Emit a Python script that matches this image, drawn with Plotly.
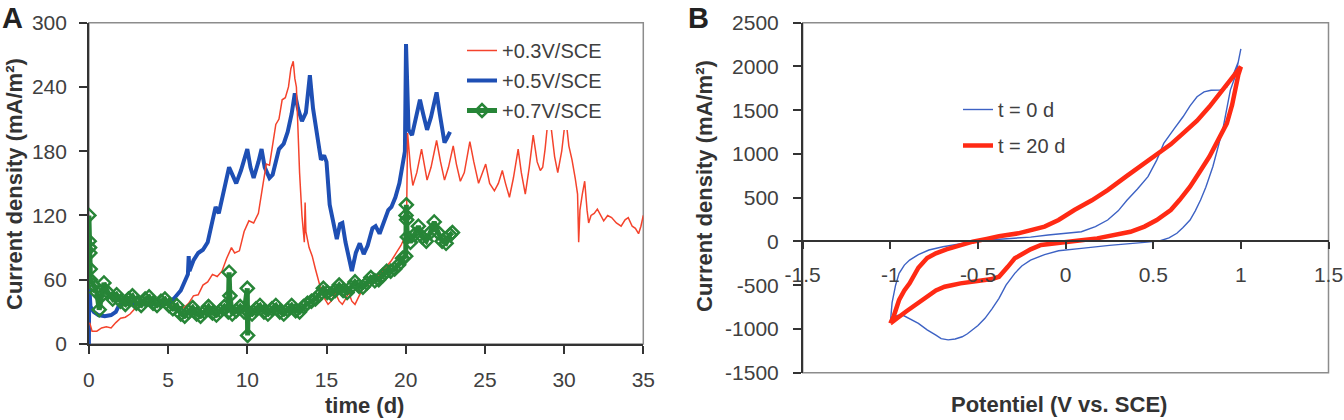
import plotly.graph_objects as go

# ---------------- Panel A : chronoamperometry ----------------
t_03 = [0.05, 0.2, 0.5, 0.8, 1.1, 1.4, 1.7, 2.0, 2.3, 2.6, 2.9, 3.2, 3.5, 4.0, 4.5, 5.0, 5.5, 6.0, 6.3, 6.6,
        6.9, 7.2, 7.5, 7.8, 8.1, 8.4, 8.7, 9.0, 9.2, 9.5, 9.8, 10.1, 10.4, 10.7, 11.0, 11.2, 11.4, 11.6, 11.8, 12.0,
        12.2, 12.4, 12.6, 12.75, 12.9, 13.0, 13.1, 13.2, 13.3, 13.45, 13.6, 13.65, 13.7, 13.9, 14.1, 14.3, 14.5, 14.7, 14.9, 15.1,
        15.3, 15.55, 15.8, 16.0, 16.2, 16.4, 16.6, 16.8, 17.0, 17.3, 17.6, 17.9, 18.2, 18.5, 18.8, 19.1, 19.4, 19.7, 19.95, 20.05,
        20.12, 20.3, 20.45, 20.7, 21.0, 21.2, 21.35, 21.6, 21.95, 22.2, 22.45, 22.7, 23.0, 23.2, 23.45, 23.7, 24.05, 24.3, 24.6, 24.8,
        25.05, 25.3, 25.6, 25.85, 26.1, 26.3, 26.55, 26.8, 27.1, 27.3, 27.55, 27.8, 28.05, 28.3, 28.5, 28.65, 28.8, 29.0, 29.2, 29.4,
        29.6, 29.85, 30.1, 30.3, 30.5, 30.7, 30.85, 30.92, 31.0, 31.15, 31.3, 31.45, 31.55, 31.7, 31.9, 32.1, 32.3, 32.5, 32.75, 33.0,
        33.3, 33.6, 33.85, 34.05, 34.3, 34.5, 34.7, 34.85, 35.0, 35.15]
j_03 = [20, 12, 12, 15, 16, 15, 20, 24, 25, 28, 33, 35, 37, 38, 37, 36, 35, 34, 38, 45,
        46, 55, 58, 65, 63, 68, 80, 90, 85, 87, 105, 115, 113, 122, 150, 168, 167, 185, 205, 210,
        228, 230, 240, 257, 264, 248, 240, 200, 160, 120, 95, 132, 105, 90, 82, 70, 58, 48, 42, 37,
        40, 48, 40, 37, 42, 48, 40, 37, 43, 52, 55, 60, 62, 67, 72, 78, 85, 92, 100, 112,
        197, 165, 148, 160, 182, 165, 153, 165, 190, 170, 153, 165, 185, 168, 152, 160, 189, 170, 150, 158,
        168, 150, 143, 150, 162, 150, 137, 155, 182, 160, 140, 165, 195, 170, 162, 165, 182, 212, 200, 175,
        160, 180, 212, 185, 172, 155, 140, 95, 125, 140, 152, 125, 113, 120, 122, 126, 120, 115, 120, 118,
        113, 110, 116, 118, 110, 108, 103, 110, 120, 112]

t_05 = [0.0, 0.02, 0.1, 0.3, 0.6, 1.0, 1.4, 1.7, 1.9, 2.2, 2.6, 3.0, 3.5, 4.0, 4.5, 5.0, 5.4, 5.8, 6.1, 6.25,
        6.3, 6.35, 6.6, 6.9, 7.2, 7.5, 7.8, 8.0, 8.2, 8.45, 8.7, 8.85, 9.0, 9.3, 9.6, 9.85, 10.0, 10.2, 10.4, 10.7,
        10.9, 11.1, 11.4, 11.6, 11.8, 12.0, 12.3, 12.55, 12.8, 13.0, 13.2, 13.45, 13.7, 13.95, 14.15, 14.4, 14.65, 14.85, 15.0, 15.2,
        15.4, 15.65, 15.85, 16.0, 16.2, 16.45, 16.6, 16.85, 17.1, 17.35, 17.6, 17.9, 18.1, 18.35, 18.6, 18.9, 19.1, 19.35, 19.6, 19.8,
        19.95, 20.02, 20.1, 20.18, 20.4, 20.65, 20.9, 21.1, 21.35, 21.6, 21.95, 22.15, 22.45, 22.6, 22.8]
j_05 = [0, 55, 35, 30, 27, 26, 27, 30, 36, 38, 38, 37, 37, 37, 37, 38, 43, 50, 60, 65,
        82, 68, 78, 85, 88, 95, 115, 128, 122, 140, 158, 165, 160, 150, 162, 175, 182, 165, 155, 170,
        182, 165, 155, 158, 172, 182, 187, 198, 215, 234, 220, 208, 216, 251, 220, 196, 172, 176, 170, 130,
        115, 98, 112, 113, 95, 80, 68, 85, 94, 84, 92, 108, 110, 103, 112, 125, 128, 137, 150, 165,
        180, 280, 240, 200, 195, 210, 228, 215, 200, 212, 235, 215, 188, 192, 198]

t_07 = [0.0, 0.02, 0.04, 0.06, 0.08, 0.1, 0.3, 0.5, 0.65, 0.8, 0.95, 1.2, 1.5, 1.75, 2.0, 2.3, 2.5, 2.75, 3.0, 3.3,
        3.55, 3.8, 4.05, 4.3, 4.55, 4.8, 5.05, 5.3, 5.55, 5.8, 6.05, 6.3, 6.55, 6.8, 7.05, 7.3, 7.55, 7.8, 8.05, 8.3,
        8.55, 8.8, 8.85, 8.9, 9.05, 9.3, 9.55, 9.8, 10.0, 10.02, 10.05, 10.3, 10.55, 10.8, 11.05, 11.3, 11.55, 11.8, 12.05, 12.3,
        12.55, 12.8, 13.05, 13.3, 13.55, 13.8, 14.05, 14.3, 14.55, 14.8, 15.05, 15.3, 15.55, 15.8, 16.05, 16.3, 16.55, 16.8, 17.05, 17.3,
        17.55, 17.8, 18.05, 18.3, 18.55, 18.8, 19.05, 19.3, 19.55, 19.8, 20.0, 20.02, 20.04, 20.06, 20.1, 20.3, 20.55, 20.8, 21.05, 21.3,
        21.55, 21.8, 22.05, 22.3, 22.55, 22.8, 22.95]
j_07 = [120, 96, 90, 85, 70, 60, 55, 48, 32, 45, 57, 48, 42, 46, 40, 37, 42, 45, 38, 36,
        42, 44, 38, 36, 40, 42, 36, 33, 36, 28, 26, 30, 34, 28, 26, 30, 35, 29, 27, 31,
        35, 30, 67, 45, 28, 31, 35, 30, 52, 8, 30, 28, 33, 36, 30, 28, 33, 36, 30, 28,
        32, 36, 31, 30, 35, 38, 40, 42, 46, 52, 48, 47, 50, 55, 50, 48, 53, 58, 54, 53,
        57, 62, 59, 60, 64, 68, 68, 70, 74, 80, 82, 120, 130, 116, 100, 95, 102, 110, 100, 96,
        104, 114, 104, 96, 94, 102, 104]

# ---------------- Panel B : cyclic voltammetry ----------------
E_0d = [-1.0, -0.99, -0.97, -0.95, -0.92, -0.89, -0.84, -0.78, -0.70, -0.62, -0.53, -0.42, -0.31, -0.20, -0.10, 0.0,
        0.09, 0.17, 0.24, 0.30, 0.35, 0.41, 0.47, 0.52, 0.56, 0.62, 0.67, 0.71, 0.75, 0.79, 0.83, 0.88, 0.92, 0.96,
        0.985, 1.0,
        0.97, 0.94, 0.92, 0.90, 0.87, 0.84, 0.80, 0.77, 0.74, 0.71, 0.67, 0.635, 0.59, 0.54, 0.45, 0.37, 0.25, 0.09,
        -0.04, -0.12, -0.2, -0.25, -0.29, -0.34, -0.38, -0.42, -0.46, -0.50, -0.53, -0.56, -0.59, -0.63, -0.67, -0.71,
        -0.74, -0.79, -0.84, -0.89, -0.93, -0.96, -0.99, -1.0]
j_0d = [-930, -700, -500, -365, -270, -213, -150, -98, -60, -30, -3, 20, 35, 50, 73, 90,
        111, 170, 245, 350, 471, 600, 740, 930, 1121, 1290, 1425, 1550, 1654, 1710, 1728, 1730, 1765, 1921,
        2050, 2200,
        1900, 1730, 1520, 1311, 1080, 854, 620, 473, 350, 245, 160, 93, 40, 8, -10, -22, -45, -79,
        -106, -150, -213, -280, -365, -500, -650, -770, -879, -960, -1013, -1055, -1089, -1115, -1125, -1110,
        -1070, -1010, -936, -880, -841, -845, -879, -930]

E_20d = [-1.0, -0.98, -0.95, -0.92, -0.89, -0.84, -0.79, -0.74, -0.68, -0.63, -0.53, -0.45, -0.38, -0.27, -0.20,
         -0.12, -0.04, 0.05, 0.15, 0.24, 0.35, 0.45, 0.50, 0.60, 0.67, 0.75, 0.82, 0.88, 0.94, 0.97, 1.0,
         0.985, 0.975, 0.95, 0.92, 0.87, 0.82, 0.76, 0.71, 0.65, 0.60, 0.52, 0.45, 0.37, 0.28, 0.18, 0.09, 0.0,
         -0.07, -0.14, -0.2, -0.25, -0.29, -0.33, -0.38, -0.42, -0.46, -0.5, -0.55, -0.6, -0.65, -0.69, -0.74,
         -0.78, -0.83, -0.87, -0.91, -0.95, -0.98, -1.0]
j_20d = [-936, -850, -669, -560, -479, -300, -190, -136, -90, -60, -3, 30, 60, 93, 125,
         170, 245, 359, 470, 587, 750, 890, 968, 1110, 1235, 1380, 1539, 1690, 1845, 1920, 1997,
         1900, 1807, 1560, 1350, 1150, 968, 780, 625, 473, 359, 245, 170, 111, 70, 35, 15, -3,
         -15, -41, -90, -155, -193, -290, -403, -430, -441, -445, -460, -479, -500, -517, -560,
         -613, -680, -746, -800, -860, -900, -936]

# tick labels
xticks_A = [0, 5, 10, 15, 20, 25, 30, 35]
yticks_A = [0, 60, 120, 180, 240, 300]
xticks_B = [-1.5, -1, -0.5, 0, 0.5, 1, 1.5]
xticklabels_B = ["-1.5", "-1", "-0.5", "0", "0.5", "1", "1.5"]
yticks_B = [-1500, -1000, -500, 0, 500, 1000, 1500, 2000, 2500]
yticklabels_B = ["-1500", "-1000", "-500", "0", "500", "1000", "1500", "2000", "2500"]

W, H = 1344, 420
FONT = "Liberation Sans, Arial, sans-serif"
TXT = "#404040"
AX = "#333333"
FRAME = "#8c8c8c"

# domains (pixels -> paper)
A_x0, A_x1, A_ytop, A_ybot = 88.9, 643.3, 22.7, 344.0
B_x0, B_x1, B_ytop, B_ybot = 802.7, 1328.5, 22.7, 372.7
A_range_y = [0, 300]
B_range_y = [-1500, 2500]

def px(x):
    return x / W

def py(y):
    return 1 - y / H

B_dom_y = [py(B_ybot), py(B_ytop)]
zero_pos = B_dom_y[0] + (0 - B_range_y[0]) / (B_range_y[1] - B_range_y[0]) * (B_dom_y[1] - B_dom_y[0])

fig = go.Figure()

fig.add_trace(go.Scatter(x=t_05, y=j_05, mode="lines", name="+0.5V/SCE",
                         line=dict(color="#1E4FB4", width=4), xaxis="x", yaxis="y",
                         legend="legend", legendgroup="g2", legendrank=2))
fig.add_trace(go.Scatter(x=t_03, y=j_03, mode="lines", name="+0.3V/SCE",
                         line=dict(color="#F4432C", width=1.5), xaxis="x", yaxis="y",
                         legend="legend", legendgroup="g1", legendrank=1))
fig.add_trace(go.Scatter(x=t_07, y=j_07, mode="lines+markers", name="+0.7V/SCE",
                         line=dict(color="#278537", width=5),
                         marker=dict(symbol="diamond-open", size=10, color="#278537", line=dict(width=2.5)),
                         xaxis="x", yaxis="y", legend="legend", legendgroup="g3", legendrank=3))

fig.add_trace(go.Scatter(x=E_0d, y=j_0d, mode="lines", name="t = 0 d",
                         line=dict(color="#3D62C4", width=1.4), xaxis="x2", yaxis="y2",
                         legend="legend2", legendgroup="h1", legendrank=1))
fig.add_trace(go.Scatter(x=E_20d, y=j_20d, mode="lines", name="t = 20 d",
                         line=dict(color="#FF2A14", width=4.5), xaxis="x2", yaxis="y2",
                         legend="legend2", legendgroup="h2", legendrank=2))

tickfont = dict(family=FONT, size=21, color=TXT)

fig.update_layout(
    width=W, height=H,
    margin=dict(l=0, r=0, t=0, b=0, autoexpand=False),
    paper_bgcolor="white", plot_bgcolor="white",
    font=dict(family=FONT, color=TXT),
    xaxis=dict(domain=[px(A_x0), px(A_x1)], range=[0, 35], anchor="y", automargin=False,
               tickmode="array", tickvals=xticks_A, ticks="outside", ticklen=8, tickwidth=1.5,
               tickcolor=AX, showline=True, linecolor=AX, linewidth=1.5, showgrid=False,
               zeroline=False, tickfont=tickfont, ticklabelstandoff=8, ticklabeloverflow="allow"),
    yaxis=dict(domain=[py(A_ybot), py(A_ytop)], range=A_range_y, anchor="x", automargin=False,
               tickmode="array", tickvals=yticks_A, ticks="outside", ticklen=8, tickwidth=1.5,
               tickcolor=AX, showline=True, linecolor=AX, linewidth=1.5, showgrid=False,
               zeroline=False, tickfont=tickfont, ticklabelstandoff=8, ticklabeloverflow="allow"),
    xaxis2=dict(domain=[px(B_x0), px(B_x1)], range=[-1.5, 1.5], anchor="free", position=zero_pos,
                automargin=False,
                tickmode="array", tickvals=xticks_B, ticktext=xticklabels_B, ticks="outside",
                ticklen=7, tickwidth=1.5, tickcolor=AX, showline=True, linecolor=AX, linewidth=1.5,
                showgrid=False, zeroline=False, tickfont=tickfont, ticklabelstandoff=8,
                ticklabeloverflow="allow"),
    yaxis2=dict(domain=B_dom_y, range=B_range_y, anchor="x2", automargin=False,
                tickmode="array", tickvals=yticks_B, ticktext=yticklabels_B, ticks="outside",
                ticklen=8, tickwidth=1.5, tickcolor=AX, showline=True, linecolor=AX, linewidth=1.5,
                showgrid=False, zeroline=False, tickfont=tickfont, ticklabelstandoff=10,
                ticklabeloverflow="allow"),
    legend=dict(x=px(462), y=py(31), xanchor="left", yanchor="top", bgcolor="white",
                borderwidth=0, font=dict(family=FONT, size=20, color=TXT),
                tracegroupgap=1, itemwidth=30),
    legend2=dict(x=px(958), y=py(90), xanchor="left", yanchor="top", bgcolor="rgba(0,0,0,0)",
                 borderwidth=0, font=dict(family=FONT, size=20, color=TXT),
                 tracegroupgap=7, itemwidth=30),
    showlegend=True,
)

# plot-area frames
fig.add_shape(type="rect", xref="x domain", yref="y domain", x0=0, x1=1, y0=0, y1=1,
              line=dict(color=FRAME, width=1.5), layer="below")
fig.add_shape(type="rect", xref="x2 domain", yref="y2 domain", x0=0, x1=1, y0=0, y1=1,
              line=dict(color=FRAME, width=1.5), layer="below")

title_font = dict(family=FONT, size=22, color="#333333")
# axis titles
fig.add_annotation(text="<b>Current density (mA/m²)</b>", xref="paper", yref="paper",
                   x=px(14), y=py(184), textangle=-90, showarrow=False, font=title_font,
                   xanchor="center", yanchor="middle")
fig.add_annotation(text="<b>time (d)</b>", xref="paper", yref="paper",
                   x=px(364), y=0, showarrow=False, font=title_font,
                   xanchor="center", yanchor="bottom")
fig.add_annotation(text="<b>Current density (mA/m²)</b>", xref="paper", yref="paper",
                   x=px(704), y=py(186), textangle=-90, showarrow=False, font=title_font,
                   xanchor="center", yanchor="middle")
fig.add_annotation(text="<b>Potentiel (V vs. SCE)</b>", xref="paper", yref="paper",
                   x=px(1059), y=py(390), showarrow=False, font=title_font,
                   xanchor="center", yanchor="top")
# panel letters
fig.add_annotation(text="<b>A</b>", xref="paper", yref="paper", x=px(0), y=1,
                   showarrow=False, font=dict(family=FONT, size=29, color="#222222"),
                   xanchor="left", yanchor="top")
fig.add_annotation(text="<b>B</b>", xref="paper", yref="paper", x=px(686), y=1,
                   showarrow=False, font=dict(family=FONT, size=29, color="#222222"),
                   xanchor="left", yanchor="top")

fig.write_html("out.html")
